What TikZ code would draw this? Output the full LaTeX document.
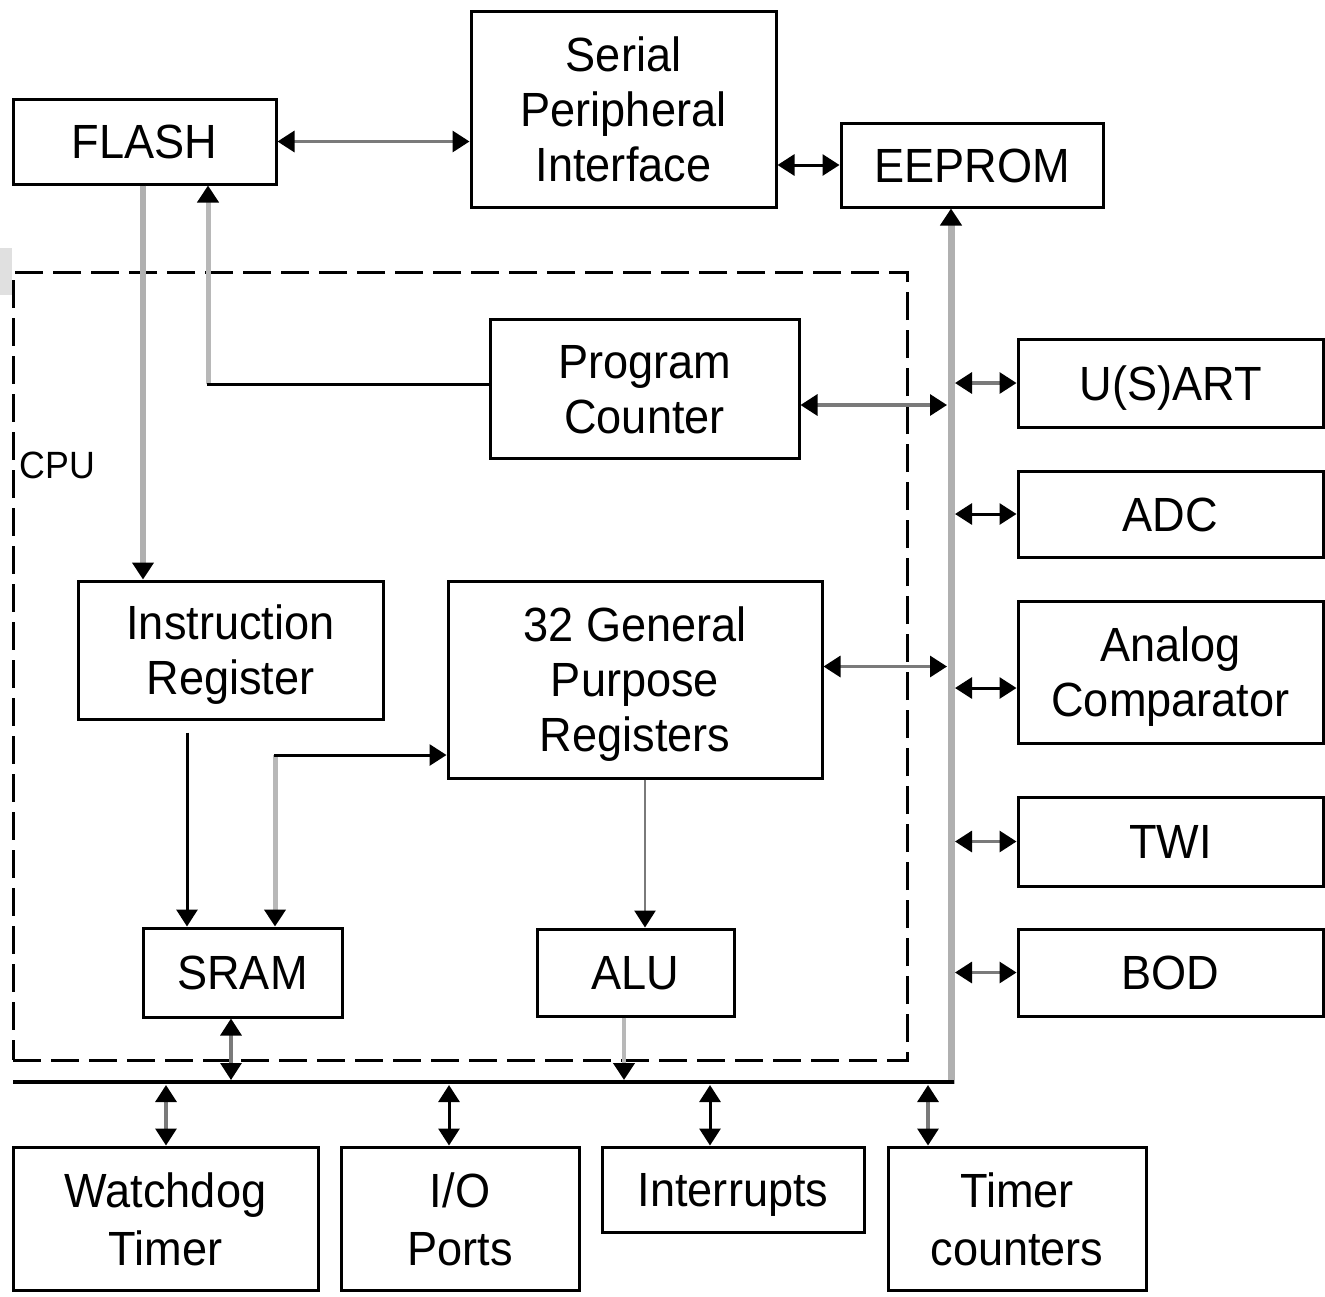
\documentclass[tikz,border=0pt]{standalone}
\usepackage{fontspec}
\setmainfont{Liberation Sans}[FakeStretch=0.94]
\usetikzlibrary{arrows.meta}
\definecolor{wireg}{HTML}{7A7A7A}
\definecolor{busg}{HTML}{B0B0B0}
\definecolor{paleg}{HTML}{B8B8B8}
\definecolor{edgeg}{HTML}{E0E0E0}
% centred label, lowered so its capitals sit in the middle of the box
\newcommand\boxtext[1]{\raisebox{-3.2pt}[\height][\depth]{\begin{tabular}{@{}c@{}}#1\end{tabular}}}
\tikzset{
  tri/.tip={Triangle[length=8.5pt,width=10.5pt,color=black]},
  blk/.style={draw=black,line width=1.5pt,inner sep=0pt,
    font=\fontsize{24pt}{27.5pt}\selectfont},
  blkb/.style={blk,font=\fontsize{24pt}{29pt}\selectfont},
  wire/.style={draw=wireg,line width=1.6pt},
  dark/.style={draw=black,line width=1.5pt},
  pale/.style={draw=paleg,line width=2.5pt},
  busline/.style={draw=busg,line width=3.5pt},
}
\begin{document}
\begin{tikzpicture}[x=0.5pt,y=-0.5pt]
\useasboundingbox (0,0) rectangle (1325,1296);
\fill[edgeg] (0,248) rectangle (12,295);

% CPU frame
\node[draw,line width=1.5pt,dash pattern=on 14pt off 5pt,inner sep=0pt,
      minimum width=447pt,minimum height=394pt] (cpu) at (460,666) {};
\node[anchor=west,inner sep=0pt,font=\fontsize{19pt}{22pt}\selectfont] (cpulabel) at (19,465) {CPU};

% memories and peripherals
\node[blk,minimum width=131.5pt,minimum height=42.5pt] (flash) at (144.5,141.5) {\boxtext{FLASH}};
\node[blk,minimum width=152.5pt,minimum height=98pt] (spi) at (623.5,109) {\boxtext{Serial\\Peripheral\\Interface}};
\node[blk,minimum width=131pt,minimum height=42pt] (eeprom) at (972,165) {\boxtext{EEPROM}};
\node[blk,minimum width=154.5pt,minimum height=69.5pt] (pc) at (644.5,388.5) {\boxtext{Program\\Counter}};
\node[blk,minimum width=152.5pt,minimum height=44pt] (usart) at (1170.5,383) {\boxtext{U(S)ART}};
\node[blk,minimum width=152.5pt,minimum height=43pt] (adc) at (1170.5,514) {\boxtext{ADC}};
\node[blk,minimum width=152.5pt,minimum height=71pt] (ac) at (1170.5,672) {\boxtext{Analog\\Comparator}};
\node[blk,minimum width=152.5pt,minimum height=44.5pt] (twi) at (1170.5,841.5) {\boxtext{TWI}};
\node[blk,minimum width=152.5pt,minimum height=43.5pt] (bod) at (1170.5,972.5) {\boxtext{BOD}};
\node[blk,minimum width=152.5pt,minimum height=69pt] (ir) at (230.5,650) {\boxtext{Instruction\\Register}};
\node[blk,minimum width=187pt,minimum height=98.5pt] (gpr) at (635,679.5) {\boxtext{32 General\\Purpose\\Registers}};
\node[blk,minimum width=99.5pt,minimum height=44.5pt] (sram) at (242.5,972.5) {\boxtext{SRAM}};
\node[blk,minimum width=98.5pt,minimum height=43.5pt] (alu) at (635.5,972.5) {\boxtext{ALU}};
\node[blkb,minimum width=152.5pt,minimum height=71.5pt] (wdt) at (165.5,1218.5) {\boxtext{Watchdog\\Timer}};
\node[blkb,minimum width=119pt,minimum height=71.5pt] (io) at (460,1218.5) {\boxtext{I/O\\Ports}};
\node[blk,minimum width=131pt,minimum height=42.5pt] (irq) at (733,1189.5) {\boxtext{Interrupts}};
\node[blkb,minimum width=129pt,minimum height=71.5pt] (tc) at (1017,1218.5) {\boxtext{Timer\\counters}};

% data bus
\coordinate (busL) at (13,1082);
\coordinate (busR) at (951,1082);
\coordinate (busE) at (955,0);
\coordinate (busW) at (947,0);
\coordinate (busU) at (0,1080);
\coordinate (busD) at (0,1085);
\draw[busline,-tri] ([yshift=-1pt]busR) -- (busR |- eeprom.south);
\draw[draw=black,line width=1.75pt] (busL) -- ([xshift=1.5pt]busR);

% top links
\draw[wire,tri-tri] (flash.east) -- (flash.east -| spi.west);
\draw[dark,tri-tri] (eeprom.west -| spi.east) -- (eeprom.west);
\draw[busline,line width=3pt,-tri] ([xshift=-0.75pt]flash.south) -- ([xshift=-0.75pt]flash.south |- ir.north);
\coordinate (pf) at (208,384);
\draw[pale,-tri] (pf) -- (pf |- flash.south);
\draw[dark] ([yshift=2.25pt]pc.west) -- ([xshift=-0.6pt]pf);

% CPU to bus
\draw[wire,tri-tri] ([yshift=-8.25pt]pc.east) -- ([yshift=-8.25pt]pc.east -| busW);
\draw[wire,tri-tri] ([yshift=6.5pt]gpr.east) -- ([yshift=6.5pt]gpr.east -| busW);

% peripherals on the bus
\draw[wire,tri-tri] (usart.west -| busE) -- (usart.west);
\draw[dark,tri-tri] (adc.west -| busE) -- (adc.west);
\draw[dark,tri-tri] ([yshift=-8pt]ac.west -| busE) -- ([yshift=-8pt]ac.west);
\draw[wire,tri-tri] (twi.west -| busE) -- (twi.west);
\draw[wire,tri-tri] (bod.west -| busE) -- (bod.west);

% inside the CPU
\draw[dark,-tri] ([xshift=-21.75pt,yshift=-6pt]ir.south) -- ([xshift=-21.75pt]ir.south |- sram.north);
\coordinate (rg) at (275,755);
\draw[pale,-tri] (rg) -- (rg |- sram.north);
\draw[dark,-tri] ([xshift=-0.6pt]rg) -- (rg -| gpr.west);
\draw[wire,line width=1.3pt,-tri] ([xshift=5pt]gpr.south) -- ([xshift=5pt]gpr.south |- alu.north);
\draw[wire,tri-tri] ([xshift=-5.75pt]sram.south) -- ([xshift=-5.75pt]sram.south |- busU);
\draw[pale,line width=2pt,-tri] ([xshift=-5.75pt]alu.south) -- ([xshift=-5.75pt]alu.south |- busU);

% bottom row on the bus
\draw[wire,tri-tri] ([xshift=0.25pt]wdt.north |- busD) -- ([xshift=0.25pt]wdt.north);
\draw[dark,tri-tri] ([xshift=-5.5pt]io.north |- busD) -- ([xshift=-5.5pt]io.north);
\draw[dark,tri-tri] ([xshift=-11.5pt]irq.north |- busD) -- ([xshift=-11.5pt]irq.north);
\draw[wire,tri-tri] ([xshift=-44.5pt]tc.north |- busD) -- ([xshift=-44.5pt]tc.north);
\end{tikzpicture}
\end{document}
